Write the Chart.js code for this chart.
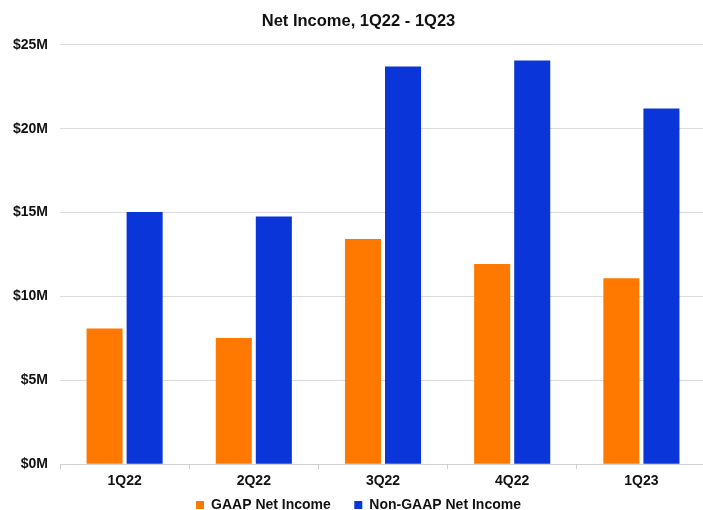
<!DOCTYPE html>
<html>
<head>
<meta charset="utf-8">
<script src="https://cdn.jsdelivr.net/npm/chart.js@4"></script>
<style>
    body { margin: 0; background: #fff; overflow: hidden; }
    #wrap { width: 723px; height: 510px; position: relative; }
</style>
</head>
<body>
<div id="wrap"><canvas id="grafico"></canvas></div>
<script>
// dados (milhões de dólares)
const trimestres = ['1Q22', '2Q22', '3Q22', '4Q22', '1Q23'];
const gaap = [8.09, 7.53, 13.42, 11.93, 11.08];
const naoGaap = [15.03, 14.77, 23.71, 24.07, 21.21];
const ticksY = [0, 5, 10, 15, 20, 25];

const fonte = "'Liberation Sans', Arial, sans-serif";

const ctx = document.getElementById('grafico');

const chart = new Chart(ctx, {
    type: 'bar',
    data: {
        labels: trimestres,
        datasets: [{
            label: 'GAAP Net Income',
            data: gaap,
            backgroundColor: '#FF7800'
        }, {
            label: 'Non-GAAP Net Income',
            data: naoGaap,
            backgroundColor: '#0A35D8'
        }]
    },
    options: {
        responsive: true,
        maintainAspectRatio: false,
        animation: false,
        categoryPercentage: 0.62,
        barPercentage: 0.9,
        layout: {
            padding: { left: 11, right: 17, top: 0, bottom: 0 }
        },
        scales: {
            x: {
                border: { color: '#d0d0d0' },
                grid: { drawOnChartArea: false, drawTicks: true, tickLength: 5, color: '#d0d0d0', offset: true },
                ticks: { color: '#111', padding: 4, font: { family: fonte, size: 14, weight: 'bold' } }
            },
            y: {
                min: 0,
                max: 25,
                border: { display: false },
                afterBuildTicks: function (eixo) {
                    eixo.ticks = ticksY.map(v => ({ value: v }));
                },
                afterFit: function (eixo) {
                    eixo.width = 49;
                },
                grid: { color: '#dcdcdc', drawTicks: false },
                ticks: {
                    color: '#111',
                    padding: 12,
                    font: { family: fonte, size: 14, weight: 'bold' },
                    callback: function (value) {
                        return '$' + value + 'M';
                    }
                }
            }
        },
        plugins: {
            title: {
                display: true,
                text: 'Net Income, 1Q22 - 1Q23',
                color: '#111',
                padding: { top: 12, bottom: 13 },
                font: { family: fonte, size: 16.5, weight: 'bold' }
            },
            legend: {
                position: 'bottom',
                maxHeight: 16,
                labels: {
                    color: '#111',
                    boxWidth: 8,
                    boxHeight: 8,
                    padding: 4,
                    font: { family: fonte, size: 14, weight: 'bold' },
                    // espaço extra entre os dois itens da legenda
                    generateLabels: function (grafico) {
                        const itens = Chart.defaults.plugins.legend.labels.generateLabels(grafico);
                        itens[0].text += '     ';
                        return itens;
                    }
                }
            },
            tooltip: { enabled: false }
        }
    }
});
</script>
</body>
</html>
